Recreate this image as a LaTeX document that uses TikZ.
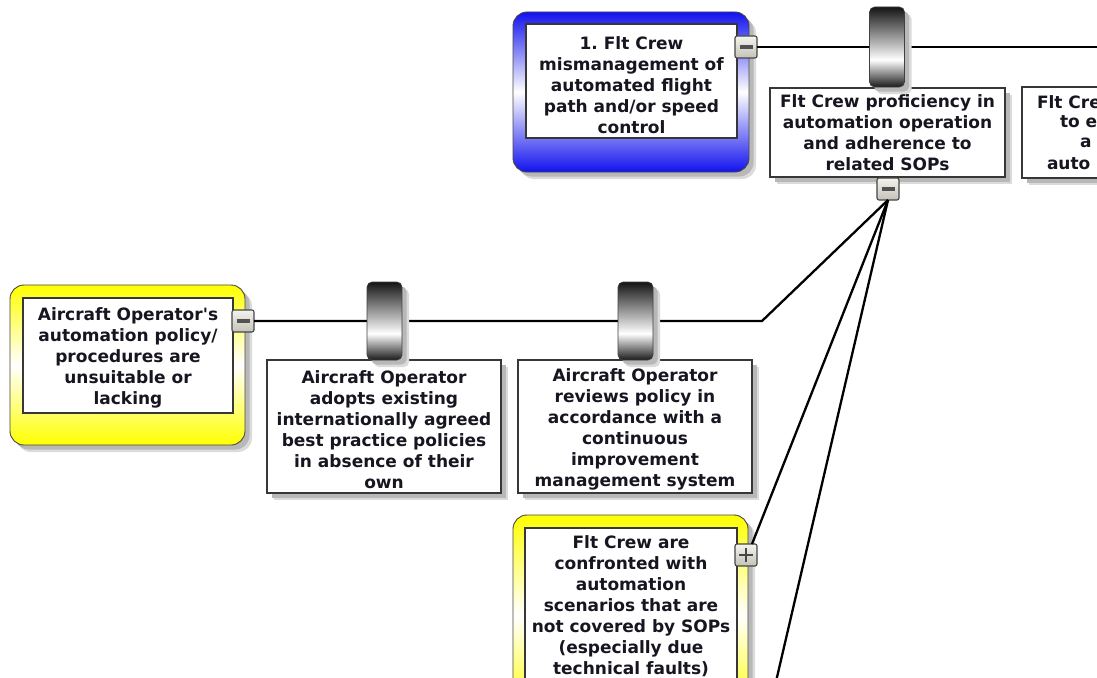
\documentclass[tikz,border=0pt]{standalone}
\usepackage{fontspec}
\setmainfont{DejaVu Sans}[Ligatures=TeXOff]
\usetikzlibrary{calc}

\definecolor{bxblue}{RGB}{18,18,238}
\definecolor{bxyellow}{RGB}{255,255,0}
\definecolor{txt}{RGB}{22,22,32}
\definecolor{edge}{RGB}{70,70,70}
\definecolor{boxline}{RGB}{55,55,55}
\definecolor{btnlight}{RGB}{244,244,238}
\definecolor{btndark}{RGB}{196,194,184}

% barrier gradient: dark top, bright band low down, dark bottom
\pgfdeclareverticalshading{barrel}{100bp}{color(0bp)=(black!90); color(25bp)=(black!90); color(42bp)=(white); color(75bp)=(black!92); color(100bp)=(black!92)}

\begin{document}
\frenchspacing
\begin{tikzpicture}[x=1pt,y=-1pt,
  every node/.style={inner sep=0pt, outer sep=0pt},
  softshadow/.style={
    preaction={fill=black!14, transform canvas={shift={(7pt,-7pt)}}},
    preaction={fill=black!28, transform canvas={shift={(4.5pt,-4.5pt)}}}},
  lbl/.style={font=\fontsize{17}{21}\selectfont\bfseries, text=txt, align=center},
  causebox/.style={draw=edge, line width=0.9pt, rounded corners=14pt,
    top color=#1, bottom color=#1, middle color=white, softshadow},
  innerbox/.style={draw=boxline, line width=1.2pt, fill=white},
  ctrlbox/.style={lbl, innerbox, softshadow, minimum width=235pt},
  barrier/.style={draw=black!75, line width=0.6pt, rounded corners=5pt,
    shade, shading=barrel, minimum width=35pt, softshadow},
  btn/.style={draw=edge, line width=1.1pt, rounded corners=2pt,
    top color=btnlight, bottom color=btndark, minimum width=22pt, minimum height=22pt},
  minusbtn/.style={btn, path picture={
    \draw[line width=3.5pt, black!68]
      ([xshift=-6.5pt]path picture bounding box.center) -- ([xshift=6.5pt]path picture bounding box.center);}},
  plusbtn/.style={btn, path picture={
    \draw[line width=2pt, black!72]
      ([xshift=-7pt]path picture bounding box.center) -- ([xshift=7pt]path picture bounding box.center)
      ([yshift=-7pt]path picture bounding box.center) -- ([yshift=7pt]path picture bounding box.center);}},
  conn/.style={line width=2.3pt, black}
]
\fill[white] (0,0) rectangle (1097,677);
\useasboundingbox (0,0) rectangle (1097,677);
\clip (0,0) rectangle (1097,677);

% top event
\node[causebox=bxblue, minimum width=236pt, minimum height=160pt] (topouter) at (631,92) {};
\node[innerbox, minimum width=211pt, minimum height=114pt] (topbox) at (631.5,81) {};
\node[lbl] (top) at (631.5,85.5)
  {1. Flt Crew\\mismanagement of\\automated flight\\path and/or speed\\control};

% operator policy threat
\node[causebox=bxyellow, minimum width=235pt, minimum height=160pt] (polouter) at (127.5,365) {};
\node[innerbox, minimum width=210pt, minimum height=115pt] (polbox) at (128,355.5) {};
\node[lbl] (pol) at (128,357.5)
  {Aircraft Operator's\\automation policy/\\procedures are\\unsuitable or\\lacking};

% scenario threat (continues below)
\node[causebox=bxyellow, minimum width=235pt, minimum height=200pt] (covouter) at (630.5,615) {};
\node[innerbox, minimum width=212pt, minimum height=170pt] (covbox) at (631,613) {};
\node[lbl, anchor=north] (cov) at (631,536)
  {Flt Crew are\\confronted with\\automation\\scenarios that are\\not covered by SOPs\\(especially due\\technical faults)};

% controls
\node[ctrlbox, minimum height=89pt] (prof) at (887.5,132.5)
  {Flt Crew proficiency in\\automation operation\\and adherence to\\related SOPs};
\node[ctrlbox, minimum height=91pt] (nxt) at (1139.5,132.5) {};
\node[lbl, anchor=west] (nxta) at (1037,102) {Flt Cre};
\node[lbl, anchor=west] (nxtb) at (1060,122) {to e};
\node[lbl, anchor=west] (nxtc) at (1080,143) {a};
\node[lbl, anchor=west] (nxtd) at (1047,164) {auto};
\node[innerbox, softshadow, minimum width=234pt, minimum height=133pt] (adoptbox) at (384,426.5) {};
\node[lbl] (adopt) at (384,429.5)
  {Aircraft Operator\\adopts existing\\internationally agreed\\best practice policies\\in absence of their\\own};
\node[innerbox, softshadow, minimum width=234pt, minimum height=133pt] (reviewbox) at (635,426.5) {};
\node[lbl] (review) at (635,429.5)
  {Aircraft Operator\\reviews policy in\\accordance with a\\continuous\\improvement\\management system};

% expand/collapse buttons
\node[minusbtn] (m1) at (746,47) {};
\node[minusbtn] (m2) at (888,189) {};
\node[minusbtn] (m3) at (243,321) {};
\node[plusbtn] (p1) at (746,555) {};

% connectors
\coordinate (offright) at (1110,47);
\coordinate (bend) at (762,321);
\coordinate (offbottom) at (771.7,700);
\draw[conn] (m1.east) -- (offright);
\draw[conn] (m3.east) -- (bend) -- (m2.south);
\draw[conn] (m2.south) -- ([xshift=6pt]p1.north);
\draw[conn] (m2.south) -- (offbottom);

% barriers on the lines
\node[barrier, minimum height=80pt] (bar0) at (887,47) {};
\node[barrier, minimum height=78pt] (bar1) at (384.5,321) {};
\node[barrier, minimum height=78pt] (bar2) at (635.5,321) {};
\end{tikzpicture}
\end{document}
